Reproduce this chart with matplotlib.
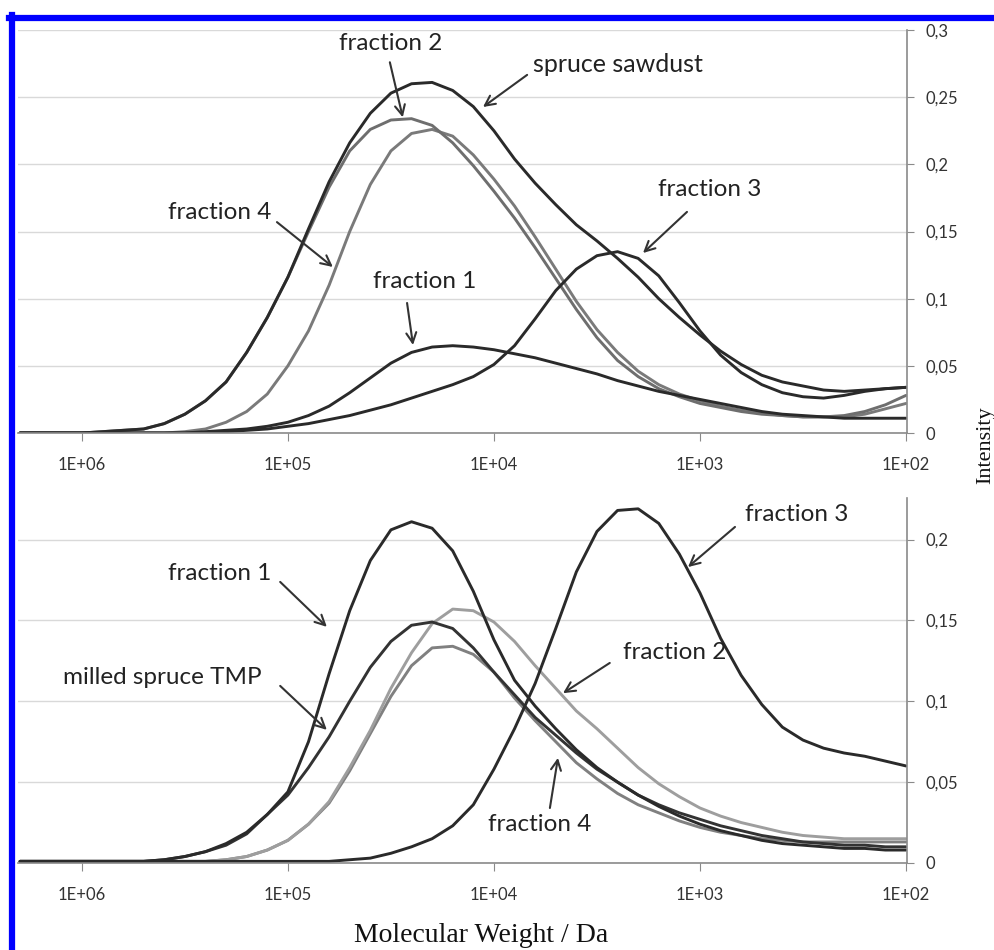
import numpy as np
import matplotlib
matplotlib.use("Agg")
import matplotlib.pyplot as plt
from matplotlib.lines import Line2D
from matplotlib.ticker import FixedLocator, FuncFormatter

# log10 of molecular weight (Da), shared x grid for all curves
log_mw = [6.3, 6.2, 6.1, 6.0, 5.9, 5.8, 5.7, 5.6, 5.5, 5.4, 5.3, 5.2, 5.1, 5.0, 4.9,
          4.8, 4.7, 4.6, 4.5, 4.4, 4.3, 4.2, 4.1, 4.0, 3.9, 3.8, 3.7, 3.6, 3.5, 3.4,
          3.3, 3.2, 3.1, 3.0, 2.9, 2.8, 2.7, 2.6, 2.5, 2.4, 2.3, 2.2, 2.1, 2.0]
mw = 10 ** np.array(log_mw)

# top panel: spruce sawdust and its fractions
top_sawdust = [0.000, 0.000, 0.000, 0.000, 0.001, 0.002, 0.003, 0.007, 0.014, 0.024, 0.038,
               0.060, 0.086, 0.116, 0.152, 0.187, 0.216, 0.238, 0.253, 0.260, 0.261, 0.255,
               0.243, 0.225, 0.204, 0.186, 0.170, 0.155, 0.143, 0.130, 0.116, 0.100, 0.086,
               0.073, 0.061, 0.051, 0.043, 0.038, 0.035, 0.032, 0.031, 0.032, 0.033, 0.034]
top_frac1 = [0.000, 0.000, 0.000, 0.000, 0.000, 0.000, 0.000, 0.000, 0.000, 0.001, 0.002,
             0.003, 0.005, 0.008, 0.013, 0.020, 0.030, 0.041, 0.052, 0.060, 0.064, 0.065,
             0.064, 0.062, 0.059, 0.056, 0.052, 0.048, 0.044, 0.039, 0.035, 0.031, 0.028,
             0.025, 0.022, 0.019, 0.016, 0.014, 0.013, 0.012, 0.011, 0.011, 0.011, 0.011]
top_frac2 = [0.000, 0.000, 0.000, 0.000, 0.001, 0.002, 0.003, 0.007, 0.014, 0.024, 0.038,
             0.060, 0.086, 0.116, 0.150, 0.183, 0.210, 0.226, 0.233, 0.234, 0.229, 0.216,
             0.199, 0.180, 0.160, 0.138, 0.115, 0.092, 0.071, 0.054, 0.042, 0.033, 0.027,
             0.022, 0.019, 0.016, 0.014, 0.013, 0.012, 0.012, 0.013, 0.016, 0.021, 0.028]
top_frac3 = [0.000, 0.000, 0.000, 0.000, 0.000, 0.000, 0.000, 0.000, 0.000, 0.000, 0.001,
             0.002, 0.003, 0.005, 0.007, 0.010, 0.013, 0.017, 0.021, 0.026, 0.031, 0.036,
             0.042, 0.051, 0.065, 0.085, 0.106, 0.122, 0.132, 0.135, 0.130, 0.117, 0.097,
             0.076, 0.058, 0.045, 0.036, 0.030, 0.027, 0.026, 0.028, 0.031, 0.033, 0.034]
top_frac4 = [0.000, 0.000, 0.000, 0.000, 0.000, 0.000, 0.000, 0.000, 0.001, 0.003, 0.008,
             0.016, 0.029, 0.050, 0.076, 0.110, 0.150, 0.185, 0.210, 0.223, 0.226, 0.221,
             0.207, 0.189, 0.169, 0.146, 0.122, 0.098, 0.077, 0.060, 0.046, 0.036, 0.029,
             0.024, 0.020, 0.017, 0.015, 0.013, 0.012, 0.012, 0.012, 0.014, 0.018, 0.022]

# bottom panel: milled spruce TMP and its fractions
bot_tmp = [0.001, 0.001, 0.001, 0.001, 0.001, 0.001, 0.001, 0.002, 0.004, 0.007, 0.011,
           0.018, 0.030, 0.042, 0.059, 0.078, 0.100, 0.121, 0.137, 0.147, 0.149, 0.145,
           0.133, 0.118, 0.104, 0.090, 0.079, 0.068, 0.058, 0.050, 0.042, 0.036, 0.031,
           0.027, 0.023, 0.020, 0.017, 0.015, 0.013, 0.012, 0.011, 0.011, 0.010, 0.010]
bot_frac1 = [0.001, 0.001, 0.001, 0.001, 0.001, 0.001, 0.001, 0.002, 0.004, 0.007, 0.012,
             0.019, 0.030, 0.044, 0.075, 0.117, 0.156, 0.187, 0.206, 0.211, 0.207, 0.193,
             0.168, 0.138, 0.113, 0.097, 0.083, 0.070, 0.059, 0.050, 0.042, 0.035, 0.029,
             0.024, 0.020, 0.017, 0.014, 0.012, 0.011, 0.010, 0.009, 0.009, 0.008, 0.008]
bot_frac2 = [0.001, 0.001, 0.001, 0.001, 0.001, 0.001, 0.001, 0.001, 0.001, 0.001, 0.002,
             0.004, 0.008, 0.014, 0.024, 0.038, 0.059, 0.082, 0.108, 0.130, 0.148, 0.157,
             0.156, 0.149, 0.137, 0.122, 0.108, 0.094, 0.083, 0.071, 0.059, 0.049, 0.041,
             0.034, 0.029, 0.025, 0.022, 0.019, 0.017, 0.016, 0.015, 0.015, 0.015, 0.015]
bot_frac3 = [0.001, 0.001, 0.001, 0.001, 0.001, 0.001, 0.001, 0.001, 0.001, 0.001, 0.001,
             0.001, 0.001, 0.001, 0.001, 0.001, 0.002, 0.003, 0.006, 0.010, 0.015, 0.023,
             0.036, 0.058, 0.083, 0.111, 0.145, 0.180, 0.205, 0.218, 0.219, 0.210, 0.191,
             0.167, 0.139, 0.116, 0.098, 0.084, 0.076, 0.071, 0.068, 0.066, 0.063, 0.060]
bot_frac4 = [0.001, 0.001, 0.001, 0.001, 0.001, 0.001, 0.001, 0.001, 0.001, 0.001, 0.002,
             0.004, 0.008, 0.014, 0.024, 0.037, 0.057, 0.080, 0.103, 0.122, 0.133, 0.134,
             0.129, 0.118, 0.102, 0.088, 0.075, 0.062, 0.052, 0.043, 0.036, 0.031, 0.026,
             0.022, 0.019, 0.017, 0.015, 0.014, 0.013, 0.013, 0.013, 0.013, 0.013, 0.013]

x_ticks = [1e6, 1e5, 1e4, 1e3, 1e2]
x_ticklabels = ["1E+06", "1E+05", "1E+04", "1E+03", "1E+02"]
top_yticks = [0, 0.05, 0.1, 0.15, 0.2, 0.25, 0.3]
bot_yticks = [0, 0.05, 0.1, 0.15, 0.2]

dark = "#2a2a2a"
sans = ["Lato", "DejaVu Sans"]
serif = ["Liberation Serif", "DejaVu Serif"]

fig = plt.figure(figsize=(9.94, 9.50), dpi=100)
ax1 = fig.add_axes([0.0181, 0.5442, 0.8944, 0.4242])
ax2 = fig.add_axes([0.0181, 0.0916, 0.8944, 0.3842])


def style_axis(ax, yticks, ymax):
    ax.set_xscale("log")
    ax.set_xlim(10 ** 6.31, 10 ** 1.995)
    ax.set_ylim(0, ymax)
    ax.xaxis.set_major_locator(FixedLocator(x_ticks))
    ax.xaxis.set_minor_locator(FixedLocator([]))
    ax.set_xticklabels(x_ticklabels)
    ax.yaxis.tick_right()
    ax.set_yticks(yticks)
    ax.yaxis.set_major_formatter(FuncFormatter(lambda v, p: ("%g" % v).replace(".", ",")))
    for s in ["top", "left"]:
        ax.spines[s].set_visible(False)
    for s in ["bottom", "right"]:
        ax.spines[s].set_color("#8a8a8a")
        ax.spines[s].set_linewidth(1.2)
    ax.grid(axis="y", color="#d9d9d9", lw=1.0)
    ax.set_axisbelow(True)
    ax.tick_params(axis="x", direction="out", length=6, color="#8a8a8a", pad=11,
                   labelsize=12, labelcolor="#333333")
    ax.tick_params(axis="y", direction="out", length=5, color="#8a8a8a", pad=8,
                   labelsize=12, labelcolor="#333333")
    for lab in ax.get_xticklabels() + ax.get_yticklabels():
        lab.set_family(sans)


style_axis(ax1, top_yticks, 0.3)
style_axis(ax2, bot_yticks, 0.2257)

lw = 2.1
kw = dict(lw=lw, solid_joinstyle="round", solid_capstyle="round")
ax1.plot(mw, top_frac4, color="#7a7a7a", **kw)
ax1.plot(mw, top_frac2, color="#6e6e6e", **kw)
ax1.plot(mw, top_frac1, color=dark, **kw)
ax1.plot(mw, top_frac3, color=dark, **kw)
ax1.plot(mw, top_sawdust, color=dark, **kw)

ax2.plot(mw, bot_frac4, color="#808080", **kw)
ax2.plot(mw, bot_frac2, color="#9e9e9e", **kw)
ax2.plot(mw, bot_tmp, color="#333333", **kw)
ax2.plot(mw, bot_frac1, color=dark, **kw)
ax2.plot(mw, bot_frac3, color=dark, **kw)


def label(ax, text, pos, tail, head, size=17.5):
    ax.text(pos[0], pos[1], text, ha="center", va="center", fontsize=size,
            family=sans, color="#222222")
    ax.annotate("", xy=head, xytext=tail,
                arrowprops=dict(arrowstyle="->", color="#333333", lw=1.5,
                                mutation_scale=18, shrinkA=0, shrinkB=0))


label(ax1, "fraction 2", (3.16e4, 0.290), (3.2e4, 0.276), (2.77e4, 0.235))
label(ax1, "spruce sawdust", (2.5e3, 0.274), (6.9e3, 0.2666), (1.13e4, 0.2427), size=18)
label(ax1, "fraction 4", (2.14e5, 0.164), (1.13e5, 0.157), (6.05e4, 0.1236))
label(ax1, "fraction 1", (2.16e4, 0.113), (2.64e4, 0.0968), (2.47e4, 0.0655))
label(ax1, "fraction 3", (893, 0.181), (1156, 0.1646), (1890, 0.134))

label(ax2, "fraction 1", (2.14e5, 0.1793), (1.09e5, 0.1738), (6.47e4, 0.146))
label(ax2, "milled spruce TMP", (4.09e5, 0.115), (1.09e5, 0.1095), (6.47e4, 0.0823))
label(ax2, "fraction 3", (338, 0.2152), (676, 0.2078), (1143, 0.183))
label(ax2, "fraction 2", (1321, 0.130), (2740, 0.1237), (4620, 0.105))
label(ax2, "fraction 4", (5.98e3, 0.0235), (5.35e3, 0.034), (4.89e3, 0.065))

fig.text(986 / 994, 1 - 445 / 950, "Intensity", rotation=90, ha="center", va="center",
         fontsize=16, family=serif, color="#111111")
fig.text(481 / 994, 1 - 935 / 950, "Molecular Weight / Da", ha="center", va="center",
         fontsize=20, family=serif, color="#111111")

# blue frame (cropped on right and bottom in the original)
fig.add_artist(Line2D([12 / 994, 12 / 994], [0, 1 - 15 / 950], transform=fig.transFigure,
                      color="#0000ff", lw=4.5))
fig.add_artist(Line2D([9 / 994, 1], [1 - 17.5 / 950, 1 - 17.5 / 950],
                      transform=fig.transFigure, color="#0000ff", lw=4.5))

fig.savefig("out.png", dpi=100)
